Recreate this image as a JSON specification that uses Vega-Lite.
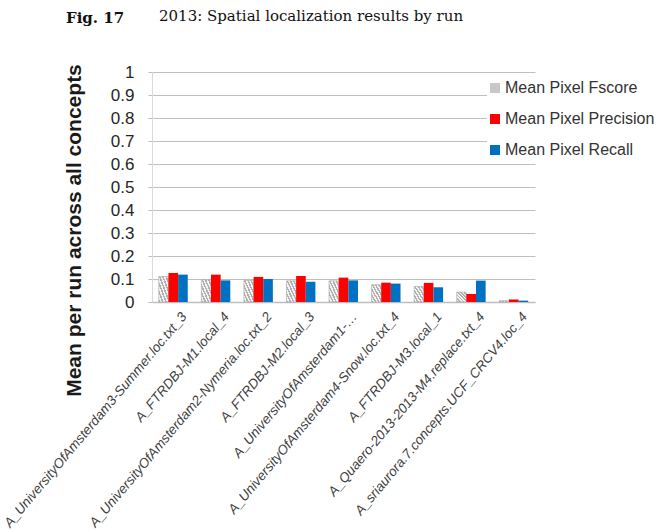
{
  "$schema": "https://vega.github.io/schema/vega-lite/v6.json",
  "width": 383,
  "height": 230,
  "autosize": {"type": "none"},
  "padding": {"left": 152, "top": 72, "right": 127, "bottom": 230},
  "background": "white",
  "config": {"view": {"stroke": null}, "font": "Liberation Sans"},
  "title": {
    "text": "Fig. 17",
    "subtitle": "\u200d\u2003\u2003\u2003\u2003\u2003\u2003\u20092013: Spatial localization results by run",
    "anchor": "start",
    "frame": "group",
    "dx": -86,
    "offset": 35,
    "font": "DejaVu Serif",
    "fontSize": 15,
    "fontWeight": "bold",
    "color": "#111111",
    "subtitleFont": "DejaVu Serif",
    "subtitleFontSize": 15,
    "subtitleFontWeight": "normal",
    "subtitleColor": "#111111",
    "subtitlePadding": -17
  },
  "data": {
    "values": [
      {"run": "A_UniversityOfAmsterdam3-Summer.loc.txt_3", "metric": "Mean Pixel Fscore", "value": 0.111},
      {"run": "A_UniversityOfAmsterdam3-Summer.loc.txt_3", "metric": "Mean Pixel Precision", "value": 0.126},
      {"run": "A_UniversityOfAmsterdam3-Summer.loc.txt_3", "metric": "Mean Pixel Recall", "value": 0.119},
      {"run": "A_FTRDBJ-M1.local_4", "metric": "Mean Pixel Fscore", "value": 0.097},
      {"run": "A_FTRDBJ-M1.local_4", "metric": "Mean Pixel Precision", "value": 0.119},
      {"run": "A_FTRDBJ-M1.local_4", "metric": "Mean Pixel Recall", "value": 0.094},
      {"run": "A_UniversityOfAmsterdam2-Nymeria.loc.txt_2", "metric": "Mean Pixel Fscore", "value": 0.094},
      {"run": "A_UniversityOfAmsterdam2-Nymeria.loc.txt_2", "metric": "Mean Pixel Precision", "value": 0.109},
      {"run": "A_UniversityOfAmsterdam2-Nymeria.loc.txt_2", "metric": "Mean Pixel Recall", "value": 0.100},
      {"run": "A_FTRDBJ-M2.local_3", "metric": "Mean Pixel Fscore", "value": 0.092},
      {"run": "A_FTRDBJ-M2.local_3", "metric": "Mean Pixel Precision", "value": 0.113},
      {"run": "A_FTRDBJ-M2.local_3", "metric": "Mean Pixel Recall", "value": 0.088},
      {"run": "A_UniversityOfAmsterdam1-…", "metric": "Mean Pixel Fscore", "value": 0.092},
      {"run": "A_UniversityOfAmsterdam1-…", "metric": "Mean Pixel Precision", "value": 0.106},
      {"run": "A_UniversityOfAmsterdam1-…", "metric": "Mean Pixel Recall", "value": 0.094},
      {"run": "A_UniversityOfAmsterdam4-Snow.loc.txt_4", "metric": "Mean Pixel Fscore", "value": 0.075},
      {"run": "A_UniversityOfAmsterdam4-Snow.loc.txt_4", "metric": "Mean Pixel Precision", "value": 0.084},
      {"run": "A_UniversityOfAmsterdam4-Snow.loc.txt_4", "metric": "Mean Pixel Recall", "value": 0.080},
      {"run": "A_FTRDBJ-M3.local_1", "metric": "Mean Pixel Fscore", "value": 0.068},
      {"run": "A_FTRDBJ-M3.local_1", "metric": "Mean Pixel Precision", "value": 0.083},
      {"run": "A_FTRDBJ-M3.local_1", "metric": "Mean Pixel Recall", "value": 0.064},
      {"run": "A_Quaero-2013-2013-M4.replace.txt_4", "metric": "Mean Pixel Fscore", "value": 0.043},
      {"run": "A_Quaero-2013-2013-M4.replace.txt_4", "metric": "Mean Pixel Precision", "value": 0.035},
      {"run": "A_Quaero-2013-2013-M4.replace.txt_4", "metric": "Mean Pixel Recall", "value": 0.093},
      {"run": "A_sriaurora.7.concepts.UCF_CRCV4.loc_4", "metric": "Mean Pixel Fscore", "value": 0.006},
      {"run": "A_sriaurora.7.concepts.UCF_CRCV4.loc_4", "metric": "Mean Pixel Precision", "value": 0.011},
      {"run": "A_sriaurora.7.concepts.UCF_CRCV4.loc_4", "metric": "Mean Pixel Recall", "value": 0.006}
    ]
  },
  "mark": {"type": "bar"},
  "encoding": {
    "x": {
      "field": "run",
      "type": "nominal",
      "sort": null,
      "scale": {"paddingInner": 0.32, "paddingOuter": 0.16},
      "axis": {
        "title": null,
        "labelAngle": -50,
        "labelFontSize": 13.5,
        "labelFont": "Liberation Sans",
        "labelFontStyle": "italic",
        "labelColor": "#404040",
        "labelLimit": 0,
        "labelOverlap": false,
        "labelPadding": 12,
        "labelOffset": 11,
        "ticks": false,
        "domainColor": "#bfbfbf",
        "domainWidth": 1.5
      }
    },
    "xOffset": {
      "field": "metric",
      "type": "nominal",
      "sort": ["Mean Pixel Fscore", "Mean Pixel Precision", "Mean Pixel Recall"]
    },
    "y": {
      "field": "value",
      "type": "quantitative",
      "scale": {"domain": [0, 1], "nice": false},
      "axis": {
        "values": [0, 0.1, 0.2, 0.3, 0.4, 0.5, 0.6, 0.7, 0.8, 0.9, 1],
        "format": "~g",
        "labelFontSize": 17,
        "labelFont": "Liberation Sans",
        "labelColor": "#262626",
        "labelPadding": 14,
        "tickColor": "#bfbfbf",
        "tickSize": 4,
        "domainColor": "#d9d9d9",
        "gridColor": "#bfbfbf",
        "gridWidth": 1,
        "title": "Mean per run across all concepts",
        "titleFont": "Liberation Sans",
        "titleFontSize": 21,
        "titleFontWeight": "bold",
        "titleColor": "#1a1a1a",
        "titleX": -72,
        "titleY": 158,
        "titleAlign": "center",
        "titleBaseline": "alphabetic",
        "titleAngle": -90
      }
    },
    "fill": {
      "condition": {
        "test": "datum.metric === 'Mean Pixel Fscore'",
        "value": {
          "gradient": "linear",
          "x1": 0, "y1": 1, "x2": 1, "y2": 0,
          "stops": [
            {"offset": 0, "color": "#b0b0b0"},
            {"offset": 0.0833, "color": "#b0b0b0"},
            {"offset": 0.0833, "color": "#f4f4f4"},
            {"offset": 0.1667, "color": "#f4f4f4"},
            {"offset": 0.1667, "color": "#b0b0b0"},
            {"offset": 0.25, "color": "#b0b0b0"},
            {"offset": 0.25, "color": "#f4f4f4"},
            {"offset": 0.3333, "color": "#f4f4f4"},
            {"offset": 0.3333, "color": "#b0b0b0"},
            {"offset": 0.4167, "color": "#b0b0b0"},
            {"offset": 0.4167, "color": "#f4f4f4"},
            {"offset": 0.5, "color": "#f4f4f4"},
            {"offset": 0.5, "color": "#b0b0b0"},
            {"offset": 0.5833, "color": "#b0b0b0"},
            {"offset": 0.5833, "color": "#f4f4f4"},
            {"offset": 0.6667, "color": "#f4f4f4"},
            {"offset": 0.6667, "color": "#b0b0b0"},
            {"offset": 0.75, "color": "#b0b0b0"},
            {"offset": 0.75, "color": "#f4f4f4"},
            {"offset": 0.8333, "color": "#f4f4f4"},
            {"offset": 0.8333, "color": "#b0b0b0"},
            {"offset": 0.9167, "color": "#b0b0b0"},
            {"offset": 0.9167, "color": "#f4f4f4"},
            {"offset": 1, "color": "#f4f4f4"}
          ]
        }
      },
      "field": "metric",
      "type": "nominal",
      "scale": {
        "domain": ["Mean Pixel Fscore", "Mean Pixel Precision", "Mean Pixel Recall"],
        "range": ["#c8c8c8", "#ff0000", "#0070c0"]
      },
      "legend": {
        "title": null,
        "orient": "none",
        "legendX": 335,
        "legendY": 8,
        "padding": 0,
        "fillColor": "white",
        "symbolType": "square",
        "symbolSize": 100,
        "symbolStrokeWidth": 0,
        "labelFont": "Liberation Sans",
        "labelFontSize": 16,
        "labelColor": "#333333",
        "labelOffset": 2,
        "labelLimit": 0,
        "rowPadding": 15
      }
    },
    "stroke": {
      "condition": {"test": "datum.metric === 'Mean Pixel Fscore'", "value": "#a6a6a6"},
      "value": null
    },
    "strokeWidth": {"value": 0.6}
  }
}
